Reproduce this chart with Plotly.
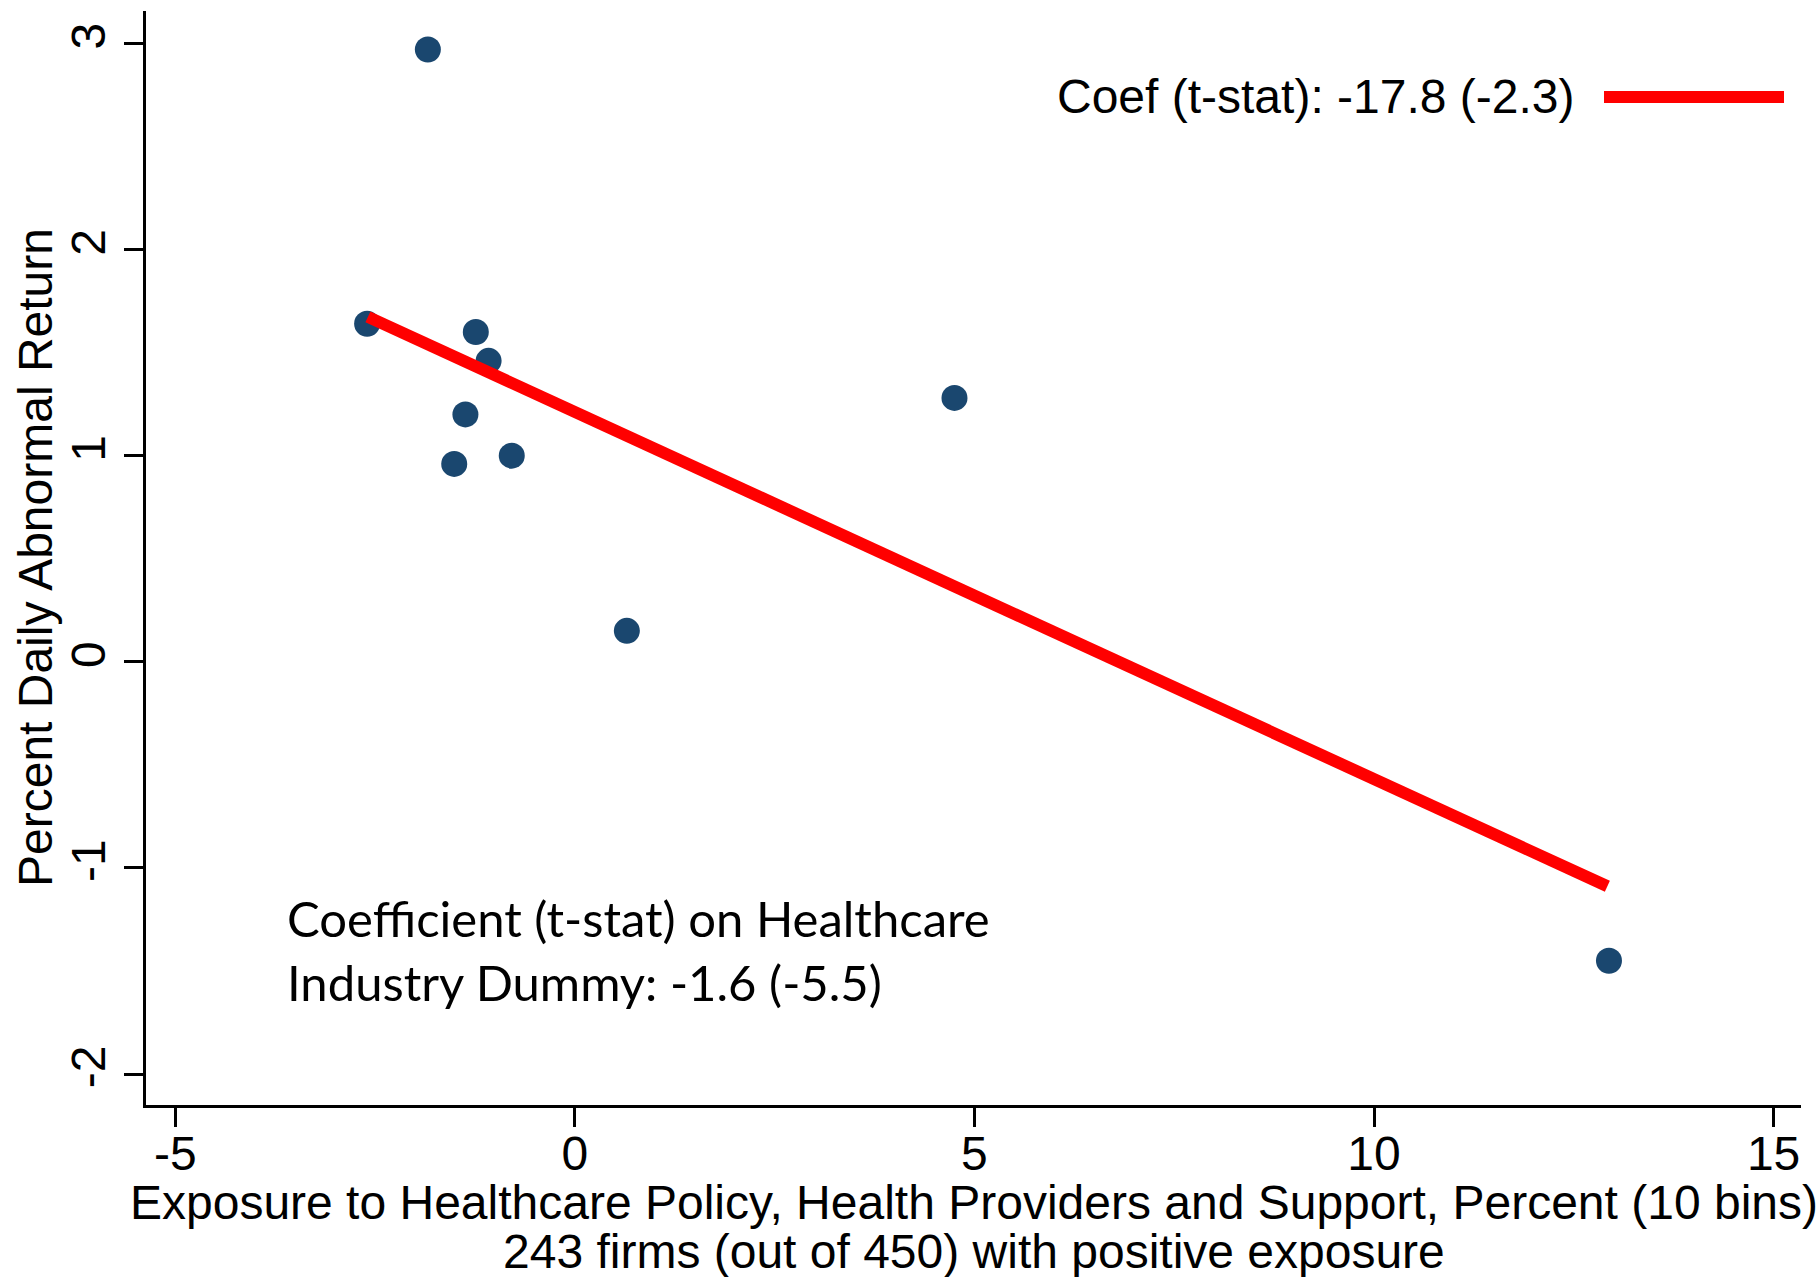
import plotly.graph_objects as go

# binned scatter: exposure (percent) vs percent daily abnormal return
bin_x = [-2.60, -1.84, -1.51, -1.37, -1.24, -1.08, -0.79, 0.65, 4.75, 12.94]
bin_y = [1.64, 2.97, 0.96, 1.20, 1.60, 1.46, 1.00, 0.15, 1.28, -1.45]

# fitted line end points
fit_x = [-2.59, 12.92]
fit_y = [1.673, -1.089]

x_ticks = [-5, 0, 5, 10, 15]
y_ticks = [-2, -1, 0, 1, 2, 3]

legend_text = "Coef (t-stat): -17.8 (-2.3)"
note_lines = ["Coefficient (t-stat) on Healthcare", "Industry Dummy: -1.6 (-5.5)"]
x_title = ["Exposure to Healthcare Policy, Health Providers and Support, Percent (10 bins)",
           "243 firms (out of 450) with positive exposure"]
y_title = "Percent Daily Abnormal Return"

stata_font = "Liberation Sans, Arial, sans-serif"
fs = 48

W, H = 1820, 1277
L, R, T, B = 146, 19, 11, 172
pw, ph = W - L - R, H - T - B


def px(xp):
    return (xp - L) / pw


def py(yp):
    return (H - B - yp) / ph


fig = go.Figure()

fig.add_trace(go.Scatter(
    x=bin_x, y=bin_y, mode="markers",
    marker=dict(size=26, color="#1a476f"),
    showlegend=False, hoverinfo="x+y"
))

fig.add_trace(go.Scatter(
    x=fit_x, y=fit_y, mode="lines",
    line=dict(color="#ff0000", width=12),
    showlegend=False
))

annotations = []
# legend key (text left, line right)
annotations.append(dict(
    text=legend_text, xref="paper", yref="paper", x=px(1576), y=py(97),
    xanchor="right", yanchor="middle", showarrow=False,
    font=dict(family=stata_font, size=fs, color="black")
))
shapes = [dict(type="line", xref="paper", yref="paper",
               x0=px(1604), x1=px(1784), y0=py(97), y1=py(97),
               line=dict(color="#ff0000", width=12))]

# overlay note
for t, yp in zip(note_lines, [918, 982]):
    annotations.append(dict(
        text=t, xref="paper", yref="paper", x=px(285), y=py(yp),
        xanchor="left", yanchor="middle", showarrow=False,
        font=dict(family="Lato, Carlito, sans-serif", size=49, color="black")
    ))

# x title, two lines
for t, yp in zip(x_title, [1202, 1251]):
    annotations.append(dict(
        text=t, xref="paper", yref="paper", x=0.5, y=py(yp),
        xanchor="center", yanchor="middle", showarrow=False,
        font=dict(family=stata_font, size=fs, color="black")
    ))

# y title
annotations.append(dict(
    text=y_title, xref="paper", yref="paper", x=px(35), y=py(558),
    xanchor="center", yanchor="middle", textangle=-90, showarrow=False,
    font=dict(family=stata_font, size=fs, color="black")
))

fig.update_layout(
    width=W, height=H,
    margin=dict(l=L, r=R, t=T, b=B),
    plot_bgcolor="white", paper_bgcolor="white",
    annotations=annotations, shapes=shapes,
    showlegend=False,
    xaxis=dict(
        range=[-5.367, 15.343], tickvals=x_ticks,
        ticktext=[str(v) for v in x_ticks],
        showgrid=False, zeroline=False,
        showline=True, linecolor="black", linewidth=3,
        ticks="outside", ticklen=19, tickwidth=2.5, tickcolor="black",
        ticklabelstandoff=-15,
        tickfont=dict(family=stata_font, size=fs, color="black"),
    ),
    yaxis=dict(
        range=[-2.15, 3.157], tickvals=y_ticks,
        ticktext=[str(v) for v in y_ticks],
        showgrid=False, zeroline=False,
        showline=True, linecolor="black", linewidth=3,
        ticks="outside", ticklen=19, tickwidth=2.5, tickcolor="black",
        tickangle=-90,
        tickfont=dict(family=stata_font, size=fs, color="black"),
    ),
)

fig.write_html("out.html", config={"displayModeBar": False},
               post_script="document.body.style.margin='0';")
